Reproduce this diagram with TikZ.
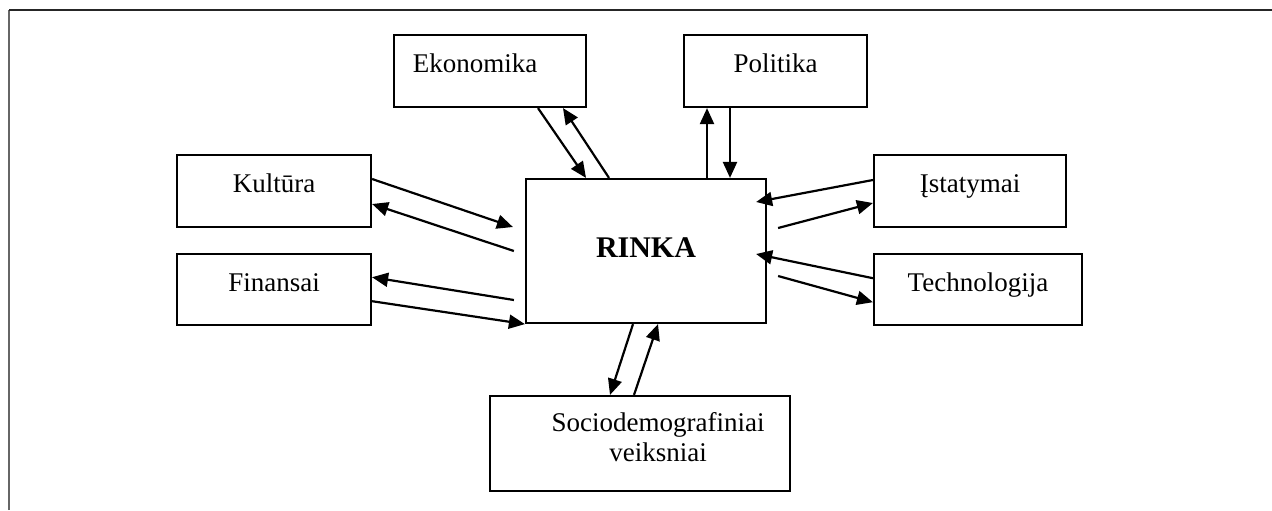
\documentclass[tikz,border=0pt]{standalone}
\usepackage{fontspec}
\setmainfont{Liberation Serif}
\usetikzlibrary{positioning,arrows.meta}

\begin{document}
\begin{tikzpicture}[
	x=0.5pt, y=-0.5pt,
	node distance=12.5pt and 48pt,
	factor/.style={draw, line width=1.1pt, inner sep=0pt, align=center,
		font=\fontsize{13.5}{15}\selectfont},
	oneline/.style={text height=9.5pt, text depth=8pt},
	link/.style={line width=1.1pt, -{Triangle[length=8pt,width=7pt]}}
	]
	
	\useasboundingbox (0,0) rectangle (1272,510);
	
	% page frame
	\draw[line width=1pt, black!60] (9,510) -- (9,10);
	\draw[line width=1pt, black!85] (9,10) -- (1272,10);
	
	% Rinka
	\node[
	factor,
	minimum width=120pt,
	minimum height=72pt,
	font=\fontsize{15}{17}\selectfont\bfseries,
	text height=10pt,
	text depth=4pt
	]
	(rinka) at (646,251)
	{RINKA};
	
	% Ekonomika
	\node[
	factor, oneline,
	minimum width=96pt,
	minimum height=36pt
	]
	(ekonomika) at (490,71)
	{Ekonomika\hspace*{15pt}};
	
	% Politika
	\node[
	factor, oneline,
	minimum width=91.5pt,
	minimum height=36pt,
	right=of ekonomika
	]
	(politika)
	{Politika};
	
	% Kultura
	\node[
	factor, oneline,
	minimum width=97pt,
	minimum height=36pt
	]
	(kultura) at (274,191)
	{Kultūra};
	
	% Finansai
	\node[
	factor, oneline,
	minimum width=97pt,
	minimum height=35.5pt,
	below=of kultura
	]
	(finansai)
	{Finansai};
	
	% Istatymai
	\node[
	factor, oneline,
	minimum width=96pt,
	minimum height=36pt
	]
	(istatymai) at (970,191)
	{Įstatymai};
	
	% Technologija
	\node[
	factor, oneline,
	minimum width=104pt,
	minimum height=35.5pt,
	below=of istatymai.south west,
	anchor=north west
	]
	(technologija)
	{Technologija};
	
	% Sociodemografiniai veiksniai
	\node[
	factor,
	minimum width=150pt,
	minimum height=47.5pt,
	text depth=6.7pt
	]
	(socio) at (640,443.5)
	{\hspace*{18pt}Sociodemografiniai\\\hspace*{18pt}veiksniai};
	
	% connectors
	\draw[link] ([xshift=24pt]ekonomika.south) -- ([xshift=-30pt]rinka.north);
	\draw[link] ([xshift=-18.5pt]rinka.north) -- ([xshift=36.5pt]ekonomika.south);
	
	\draw[link] ([xshift=30.5pt]rinka.north) -- ([xshift=30.5pt]rinka.north |- politika.south);
	\draw[link] ([xshift=42pt]rinka.north |- politika.south) -- ([xshift=42pt]rinka.north);
	
	\draw[link] ([yshift=6pt]kultura.east) -- ([xshift=-6pt,yshift=12pt]rinka.west);
	\draw[link] ([xshift=-5.5pt]rinka.west) -- ([yshift=-6.5pt]kultura.east);
	
	\draw[link] ([xshift=-5.5pt,yshift=-24.5pt]rinka.west) -- ([yshift=6.25pt]finansai.east);
	\draw[link] ([yshift=-5.75pt]finansai.east) -- (rinka.south west);
	
	\draw[link] ([yshift=5.5pt]istatymai.west) -- ([xshift=-5.5pt,yshift=24.5pt]rinka.east);
	\draw[link] ([xshift=5.5pt,yshift=11.5pt]rinka.east) -- ([yshift=-6pt]istatymai.west);
	
	\draw[link] ([yshift=5.75pt]technologija.west) -- ([xshift=-5.5pt,yshift=-1.5pt]rinka.east);
	\draw[link] ([xshift=5.5pt,yshift=-12.5pt]rinka.east) -- ([yshift=-6.25pt]technologija.west);
	
	\draw[link] ([xshift=-6.5pt]rinka.south) -- ([xshift=-15pt]socio.north);
	\draw[link] ([xshift=-3pt]socio.north) -- ([xshift=6pt]rinka.south);
	
\end{tikzpicture}
\end{document}
